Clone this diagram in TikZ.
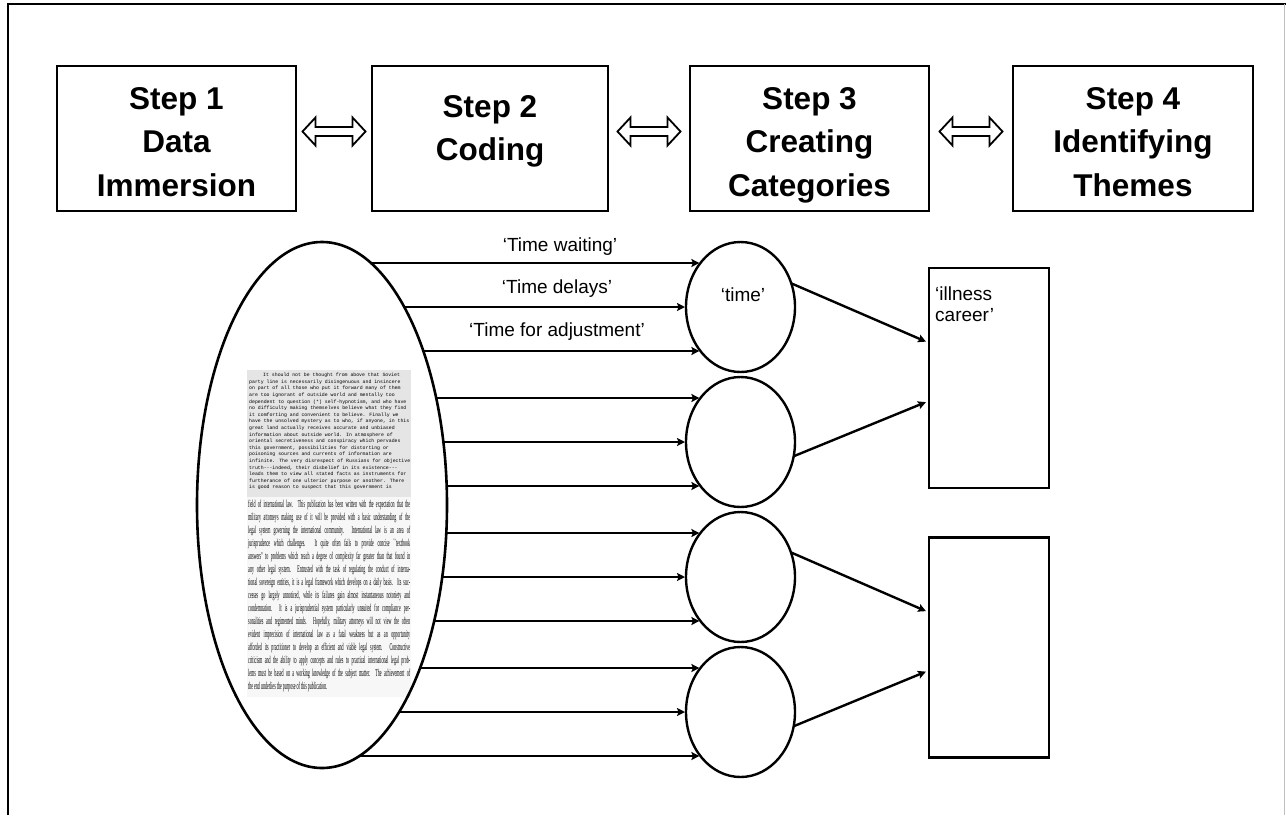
\documentclass[tikz,border=0pt]{standalone}
\usepackage{fontspec}
\setmainfont{Liberation Sans}
\newfontfamily\monofnt{Liberation Mono}
\newfontfamily\seriffnt{Liberation Serif}
\usepackage{graphicx}
\usetikzlibrary{arrows.meta,calc,shapes.geometric}
\newcommand\dblarrowat[1]{%
  \draw[dbl] ($(#1)+(-31.5,0)$) -- ++(13,-14) -- ++(0,9.5) -- ++(37,0) -- ++(0,-9.5) -- ++(13,14) -- ++(-13,14) -- ++(0,-9.5) -- ++(-37,0) -- ++(0,9.5) -- cycle;}
\newcommand\jl[1]{\makebox[320pt][s]{#1}\\}
\begin{document}
\begin{tikzpicture}[x=1pt,y=-1pt,
  stepbox/.style={draw, line width=2.4pt, minimum width=239pt, minimum height=145pt, inner sep=0pt},
  steptext/.style={font=\fontsize{31.5}{43.5}\selectfont\bfseries, align=center, inner sep=0pt, anchor=north},
  bigell/.style={ellipse, draw, line width=2.6pt, minimum width=250pt, minimum height=526pt, inner sep=0pt, outer sep=0pt},
  catell/.style={ellipse, draw, line width=2.4pt, minimum width=109pt, minimum height=130pt, inner sep=0pt, outer sep=0pt},
  themebox/.style={draw, line width=2.4pt, minimum width=120pt, minimum height=220pt, inner sep=0pt},
  flow/.style={line width=2.4pt, -{Stealth[length=8pt,width=8pt,inset=1.5pt]}, shorten >=1pt},
  lbl/.style={font=\fontsize{19}{21}\selectfont, inner sep=0pt},
  dbl/.style={draw, line width=1.8pt, fill=white, line join=miter}
]
\useasboundingbox (0,0) rectangle (1286,815);
% outer frame
\draw[line width=1.5pt] (8,815) -- (8,4) -- (1286,4);
\draw[line width=1pt, black!25] (1284,4) -- (1284,815);

% step boxes
\node[stepbox] (s1) at (176.5,138.5) {};
\node[stepbox, minimum width=236pt] (s2) at (490,138.5) {};
\node[stepbox] (s3) at (809.5,138.5) {};
\node[stepbox, minimum width=240pt] (s4) at (1133,138.5) {};
\node[steptext] (t1) at ($(s1.north)+(0,22)$) {Step 1\\Data\\Immersion};
\node[steptext] (t2) at ($(s2.north)+(0,30)$) {Step 2\\Coding};
\node[steptext] (t3) at ($(s3.north)+(0,22)$) {Step 3\\Creating\\Categories};
\node[steptext] (t4) at ($(s4.north)+(0,22)$) {Step 4\\Identifying\\Themes};

% double arrows
\coordinate (d12) at ($(s1.east)!0.5!(s2.west)+(0,-7)$);
\coordinate (d23) at ($(s2.east)!0.5!(s3.west)+(0,-7)$);
\coordinate (d34) at ($(s3.east)!0.5!(s4.west)+(0,-7)$);
\dblarrowat{d12}
\dblarrowat{d23}
\dblarrowat{d34}

% data ellipse with scanned text
\fill[black!10] (247,370) rectangle (411,497);
\fill[black!3] (247,497) rectangle (411,697);
\node[anchor=north west, inner sep=0pt, text=black, align=left,
      font=\monofnt\fontsize{4.85}{6.6}\selectfont] (p1) at (249,373) {%
\hspace*{14pt}It should not be thought from above that Soviet\\
party line is necessarily disingenuous and insincere\\
on part of all those who put it forward many of them\\
are too ignorant of outside world and mentally too\\
dependent to question (*) self-hypnotism, and who have\\
no difficulty making themselves believe what they find\\
it comforting and convenient to believe.  Finally we\\
have the unsolved mystery as to who, if anyone, in this\\
great land actually receives accurate and unbiased\\
information about outside world.  In atmosphere of\\
oriental secretiveness and conspiracy which pervades\\
this government, possibilities for distorting or\\
poisoning sources and currents of information are\\
infinite.  The very disrespect of Russians for objective\\
truth-\kern0pt-\kern0pt-indeed, their disbelief in its existence-\kern0pt-\kern0pt-\\
leads them to view all stated facts as instruments for\\
furtherance of one ulterior purpose or another.  There\\
is good reason to suspect that this government is};
\node[anchor=north west, inner sep=0pt, text=black] (p2) at (248,500) {%
\resizebox*{162pt}{192pt}{\parbox{320pt}{\seriffnt\fontsize{8}{10}\selectfont\raggedright\noindent
\jl{field of international law. This publication has been written with the expectation that the}
\jl{military attorneys making use of it will be provided with a basic understanding of the}
\jl{legal system governing the international community. International law is an area of}
\jl{jurisprudence which challenges. It quite often fails to provide concise ``textbook}
\jl{answers'' to problems which reach a degree of complexity far greater than that found in}
\jl{any other legal system. Entrusted with the task of regulating the conduct of interna-}
\jl{tional sovereign entities, it is a legal framework which develops on a daily basis. Its suc-}
\jl{cesses go largely unnoticed, while its failures gain almost instantaneous notoriety and}
\jl{condemnation. It is a jurisprudential system particularly unsuited for compliance per-}
\jl{sonalities and regimented minds. Hopefully, military attorneys will not view the often}
\jl{evident imprecision of international law as a fatal weakness but as an opportunity}
\jl{afforded its practitioner to develop an efficient and viable legal system. Constructive}
\jl{criticism and the ability to apply concepts and rules to practical international legal prob-}
\jl{lems must be based on a working knowledge of the subject matter. The achievement of}
the end underlies the purpose of this publication.}}};
\node[bigell] (E) at (322,505) {};

% category ellipses
\node[catell] (c1) at (740.5,307) {};
\node[catell] (c2) at (740.5,442) {};
\node[catell] (c3) at (740.5,577) {};
\node[catell] (c4) at (740.5,712) {};
\node[lbl] (tt) at (743,294.5) {‘time’};

% theme boxes
\node[themebox] (th1) at (989,378) {};
\node[themebox] (th2) at (989,647.5) {};
\node[lbl, anchor=north west, align=left] (ill) at (935,287) {‘illness\\career’};

% code arrows (horizontal, from the data ellipse's border to each category ellipse's border)
\foreach \c/\cy in {c1/307, c2/442, c3/577, c4/712} {
  \foreach \off in {-44,0,44} {
    \pgfmathsetmacro\dy{\cy+\off-505}
    \pgfmathsetmacro\xo{125*sqrt(1-((\dy)/263)^2)}
    \pgfmathsetmacro\xc{54.5*sqrt(1-((\off)/65)^2)}
    \draw[flow] ($(E.center)+(\xo,\dy)$) -- ($(\c.center)+(0-\xc,\off)$);
  }
}
\node[lbl] (l1) at (560,247) {‘Time waiting’};
\node[lbl] (l2) at (557,289) {‘Time delays’};
\node[lbl] (l3) at (557,331.5) {‘Time for adjustment’};

% category to theme arrows
\draw[flow, shorten >=2pt] (c1.25) -- ($(th1.north west)!0.34!(th1.south west)$);
\draw[flow, shorten >=2pt] (c2.-15) -- ($(th1.north west)!0.605!(th1.south west)$);
\draw[flow, shorten >=2pt] (c3.26) -- ($(th2.north west)!0.34!(th2.south west)$);
\draw[flow, shorten >=2pt] (c4.-15) -- ($(th2.north west)!0.605!(th2.south west)$);
\end{tikzpicture}
\end{document}
